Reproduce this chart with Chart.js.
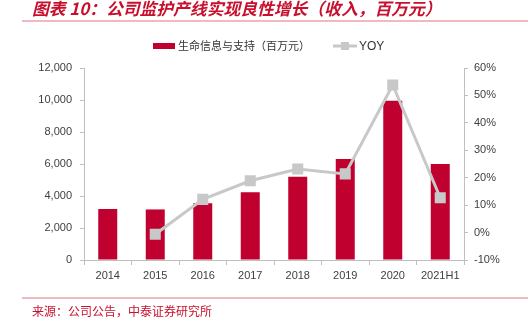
<!DOCTYPE html>
<html>
<head>
<meta charset="utf-8">
<script src="https://cdn.jsdelivr.net/npm/chart.js@4"></script>
<style>
    html, body { margin: 0; padding: 0; background: #fff; }
    #wrap { position: relative; width: 528px; height: 322px; }
</style>
</head>
<body>
<div id="wrap"><canvas id="revenueChart" width="528" height="322"></canvas></div>
<script>
const years = ["2014", "2015", "2016", "2017", "2018", "2019", "2020", "2021H1"];
const revenue = [3190, 3160, 3540, 4230, 5210, 6310, 9960, 6000];
const yoy = [null, -0.6, 12.1, 18.9, 23.2, 21.4, 53.8, 12.7];
const barLabel = "生命信息与支持（百万元）";
const lineLabel = "YOY";
const titleText = "图表 10：公司监护产线实现良性增长（收入，百万元）";
const sourceText = "来源：公司公告，中泰证券研究所";

const RED = "#c0002f";
const GREY = "#c8c8c8";
const AXIS = "#bfbfbf";
const CJK = "'Noto Sans CJK SC', sans-serif";
const LATIN = "'Liberation Sans', Arial, sans-serif";

// titel, linie, legende en bron zelf tekenen
const decorations = {
    id: "decorations",
    afterDraw(chart) {
        const ctx = chart.ctx;
        ctx.save();
        ctx.fillStyle = "#c8102e";
        ctx.font = "italic bold 16.8px " + CJK;
        ctx.textBaseline = "alphabetic";
        ctx.fillText(titleText, 32, 15);

        ctx.strokeStyle = "#eaa2ab";
        ctx.lineWidth = 1.5;
        ctx.beginPath();
        ctx.moveTo(22, 21);
        ctx.lineTo(528, 21);
        ctx.moveTo(22, 298);
        ctx.lineTo(528, 298);
        ctx.stroke();

        // legende
        const ly = 46;
        ctx.fillStyle = RED;
        ctx.fillRect(153, ly - 3, 22, 6);
        ctx.fillStyle = "#333";
        ctx.font = "11px " + CJK;
        ctx.textBaseline = "middle";
        ctx.fillText(barLabel, 178, ly);

        ctx.strokeStyle = GREY;
        ctx.lineWidth = 3;
        ctx.beginPath();
        ctx.moveTo(333, ly);
        ctx.lineTo(357, ly);
        ctx.stroke();
        ctx.fillStyle = GREY;
        ctx.fillRect(341, ly - 4, 8, 8);
        ctx.fillStyle = "#333";
        ctx.font = "12px " + LATIN;
        ctx.fillText(lineLabel, 359, ly + 1);

        // bron
        ctx.fillStyle = "#c8102e";
        ctx.font = "12px " + CJK;
        ctx.fillText(sourceText, 32, 311);
        ctx.restore();
    },
};

const ctx = document.getElementById("revenueChart").getContext("2d");
new Chart(ctx, {
    data: {
        labels: years,
        datasets: [
            {
                type: "line",
                label: lineLabel,
                data: yoy,
                yAxisID: "y1",
                borderColor: GREY,
                backgroundColor: GREY,
                borderWidth: 3,
                pointStyle: "rect",
                pointRadius: 5.7,
                pointHoverRadius: 5.7,
                tension: 0,
                order: 0,
            },
            {
                type: "bar",
                label: barLabel,
                data: revenue,
                yAxisID: "y",
                backgroundColor: RED,
                categoryPercentage: 0.4,
                barPercentage: 1,
                order: 1,
            },
        ],
    },
    options: {
        responsive: false,
        animation: false,
        layout: { padding: { top: 68, left: 0, right: 0, bottom: 0 } },
        plugins: {
            legend: { display: false },
            title: { display: false },
            tooltip: { enabled: false },
        },
        scales: {
            x: {
                grid: { drawOnChartArea: false, tickLength: 5, color: AXIS },
                border: { color: AXIS },
                ticks: { color: "#404040", font: { family: LATIN, size: 11 }, padding: 4, maxRotation: 0 },
                afterFit(scale) { scale.height = 62; },
            },
            y: {
                position: "left",
                min: 0,
                max: 12000,
                grid: { drawOnChartArea: false, tickLength: 4, color: AXIS },
                border: { color: AXIS },
                ticks: {
                    stepSize: 2000,
                    color: "#404040",
                    font: { family: LATIN, size: 11 },
                    padding: 8,
                    callback: (v) => v.toLocaleString("en-US"),
                },
                afterFit(scale) { scale.width = 84; },
            },
            y1: {
                position: "right",
                min: -10,
                max: 60,
                grid: { drawOnChartArea: false, tickLength: 4, color: AXIS },
                border: { color: AXIS },
                ticks: {
                    stepSize: 10,
                    color: "#404040",
                    font: { family: LATIN, size: 11 },
                    padding: 6,
                    callback: (v) => v + "%",
                },
                afterFit(scale) { scale.width = 64; },
            },
        },
    },
    plugins: [decorations],
});
</script>
</body>
</html>
